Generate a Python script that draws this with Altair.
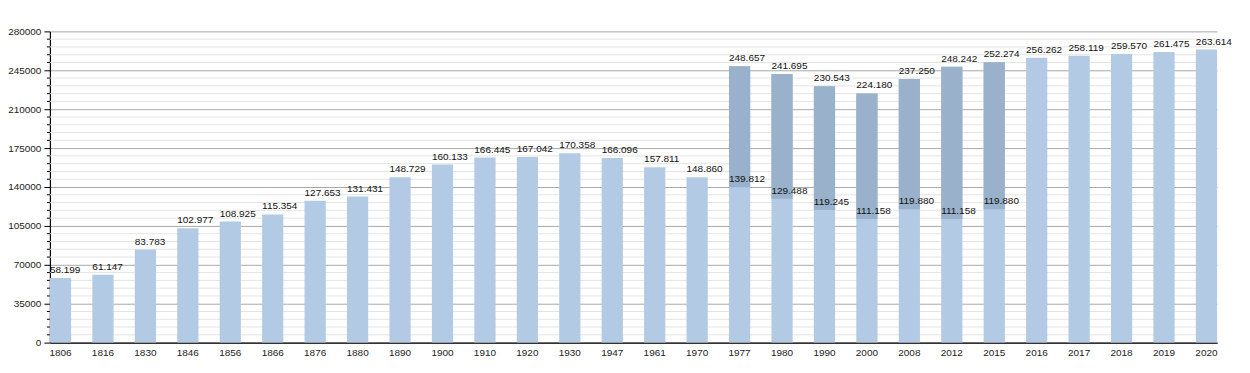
import altair as alt
import pandas as pd

years = ["1806", "1816", "1830", "1846", "1856", "1866", "1876", "1880", "1890", "1900",
         "1910", "1920", "1930", "1947", "1961", "1970", "1977", "1980", "1990", "2000",
         "2008", "2012", "2015", "2016", "2017", "2018", "2019", "2020"]
totals = [58199, 61147, 83783, 102977, 108925, 115354, 127653, 131431, 148729, 160133,
          166445, 167042, 170358, 166096, 157811, 148860, 248657, 241695, 230543, 224180,
          237250, 248242, 252274, 256262, 258119, 259570, 261475, 263614]
split_years = ["1977", "1980", "1990", "2000", "2008", "2012", "2015"]
split_values = [139812, 129488, 119245, 111158, 119880, 111158, 119880]
major_ticks = list(range(0, 280001, 35000))
minor_ticks = [v for v in range(0, 280001, 7000) if v % 35000 != 0]

def fmt(v):
    return f"{v:,}".replace(",", ".")

df = pd.DataFrame({"year": years, "total": totals})
df["label"] = df["total"].map(fmt)
split = pd.DataFrame({"year": split_years, "base": split_values})
split = split.merge(df[["year", "total"]], on="year")
split["label"] = split["base"].map(fmt)
minor_df = pd.DataFrame({"total": minor_ticks})

FONT = "Liberation Sans"
LIGHT = "#b2cae3"
DARK = "#99b1ca"
W, H = 1170, 312

x_axis = alt.Axis(labelAngle=0, ticks=False, domainColor="#000", domainWidth=1.2,
                  labelFont=FONT, labelFontSize=10, labelColor="#222",
                  labelPadding=5, grid=False)
x_scale = alt.Scale(paddingInner=0.5, paddingOuter=0)
y_axis = alt.Axis(values=major_ticks, format="d", labelOverlap=False,
                  labelFont=FONT, labelFontSize=10, labelColor="#222",
                  labelPadding=3, domainColor="#000", domainWidth=1.2,
                  tickColor="#000", tickSize=6,
                  grid=True, gridColor="#a9a9a9", gridWidth=1)
y_scale = alt.Scale(domain=[0, 280000], nice=False)

def X(**kw):
    return alt.X("year:N", sort=years, title=None, scale=x_scale, axis=x_axis, **kw)

def Y(field):
    return alt.Y(field, title=None, scale=y_scale, axis=y_axis)

minor_grid = alt.Chart(minor_df).mark_rule(color="#e4e4e4", strokeWidth=1).encode(
    y=Y("total:Q"), x=alt.value(0), x2=alt.value(W))
minor_tick = alt.Chart(minor_df).mark_rule(color="#000", strokeWidth=1).encode(
    y=Y("total:Q"), x=alt.value(-3), x2=alt.value(0))

bars = alt.Chart(df).mark_bar(color=LIGHT).encode(x=X(), y=Y("total:Q"))

upper = alt.Chart(split).mark_bar(color=DARK).encode(
    x=X(), y=Y("base:Q"), y2="total:Q")

text_top = alt.Chart(df).mark_text(align="left", baseline="alphabetic", dy=-5,
                                   font=FONT, fontSize=10, color="#111").encode(
    x=X(bandPosition=0), y=Y("total:Q"), text="label:N")

text_base = alt.Chart(split).mark_text(align="left", baseline="alphabetic", dy=-5,
                                       font=FONT, fontSize=10, color="#111").encode(
    x=X(bandPosition=0), y=Y("base:Q"), text="label:N")

chart = alt.layer(minor_grid, minor_tick, bars, upper, text_top, text_base).properties(
    width=W, height=H,
    autosize=alt.AutoSizeParams(type="none"),
    padding={"left": 42, "top": 23, "right": 25, "bottom": 25},
).configure_view(strokeWidth=0)

chart.save("out.html", embed_options={"renderer": "svg", "actions": False})
